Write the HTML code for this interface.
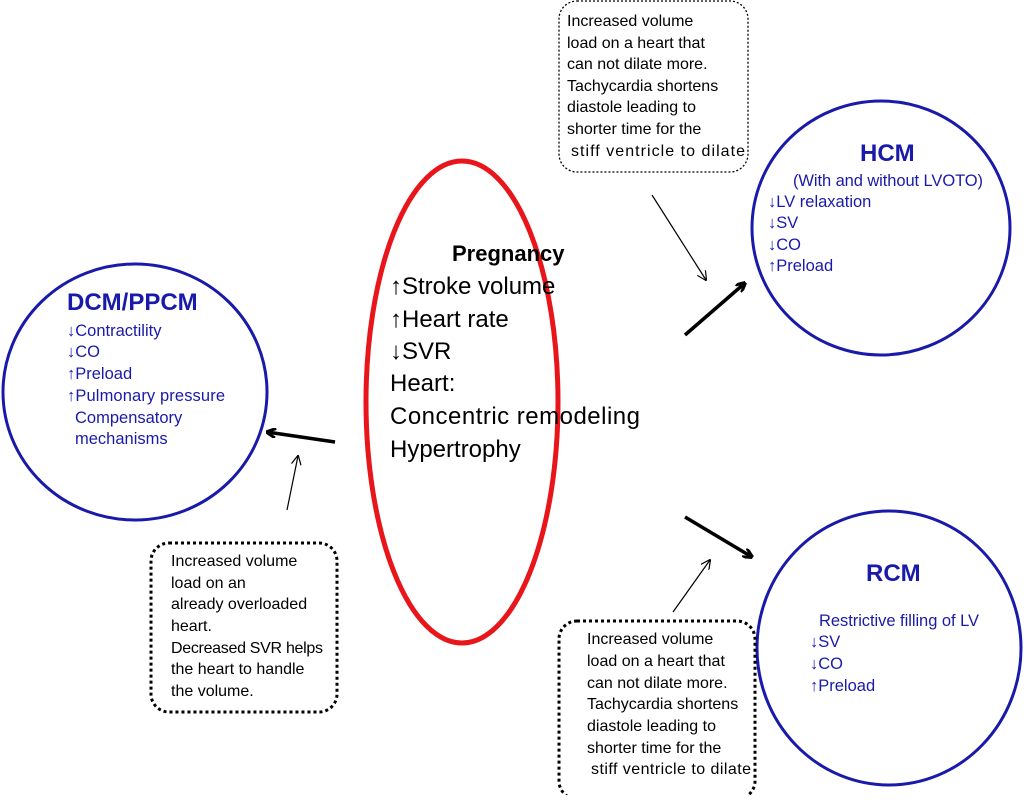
<!DOCTYPE html>
<html><head><meta charset="utf-8"><style>
body{margin:0;background:#fff;}
svg text{font-family:"Liberation Sans",sans-serif;}
</style></head><body>
<svg width="1024" height="795" viewBox="0 0 1024 795" xmlns="http://www.w3.org/2000/svg">
<defs>
<marker id="a" markerWidth="10" markerHeight="10" refX="9" refY="5" orient="auto" markerUnits="userSpaceOnUse"><path d="M0,0 L10,5 L0,10" fill="none" stroke="#000" stroke-width="3"/></marker>
<marker id="b" markerWidth="10" markerHeight="10" refX="9" refY="5" orient="auto" markerUnits="userSpaceOnUse"><path d="M0,0 L10,5 L0,10" fill="none" stroke="#000" stroke-width="1.2"/></marker>
</defs>
<ellipse cx="135" cy="392" rx="132" ry="128" fill="none" stroke="#1a1aaa" stroke-width="3"/>
<ellipse cx="881" cy="228" rx="129" ry="127" fill="none" stroke="#1a1aaa" stroke-width="3"/>
<ellipse cx="889" cy="648" rx="132" ry="137" fill="none" stroke="#1a1aaa" stroke-width="3"/>
<ellipse cx="462" cy="402" rx="96" ry="241" fill="none" stroke="#e8161b" stroke-width="5"/>
<rect x="559" y="1" width="189" height="171" rx="18" fill="none" stroke="#000" stroke-width="1.3" stroke-dasharray="2,2"/>
<rect x="151" y="543" width="186" height="169" rx="18" fill="none" stroke="#000" stroke-width="3" stroke-dasharray="3,3"/>
<rect x="559" y="621" width="196" height="178" rx="18" fill="none" stroke="#000" stroke-width="3" stroke-dasharray="3,3"/>
<line x1="335" y1="442" x2="267" y2="432" stroke="#000" stroke-width="3.5" marker-end="url(#a)"/>
<line x1="287" y1="510" x2="298" y2="456" stroke="#000" stroke-width="1.2" marker-end="url(#b)"/>
<line x1="685" y1="335" x2="745" y2="283" stroke="#000" stroke-width="3.5" marker-end="url(#a)"/>
<line x1="652" y1="195" x2="706" y2="280" stroke="#000" stroke-width="1.2" marker-end="url(#b)"/>
<line x1="685" y1="517" x2="752" y2="557" stroke="#000" stroke-width="3.5" marker-end="url(#a)"/>
<line x1="673" y1="612" x2="710" y2="560" stroke="#000" stroke-width="1.2" marker-end="url(#b)"/>
<g font-size="24" fill="#000">
<text x="452" y="261" font-size="22" font-weight="bold">Pregnancy</text>
<text x="390" y="294">↑Stroke volume</text>
<text x="390" y="327">↑Heart rate</text>
<text x="390" y="359">↓SVR</text>
<text x="390" y="391">Heart:</text>
<text x="390" y="424" textLength="250">Concentric remodeling</text>
<text x="390" y="457">Hypertrophy</text>
</g>
<g fill="#1a1aaa" font-size="16.5">
<text x="67" y="310" font-size="24" font-weight="bold">DCM/PPCM</text>
<text x="67" y="336">↓Contractility</text>
<text x="67" y="357">↓CO</text>
<text x="67" y="379">↑Preload</text>
<text x="67" y="401" textLength="158">↑Pulmonary pressure</text>
<text x="75" y="423">Compensatory</text>
<text x="75" y="444">mechanisms</text>
<text x="860" y="161" font-size="24" font-weight="bold">HCM</text>
<text x="793" y="186" textLength="190">(With and without LVOTO)</text>
<text x="768" y="207">↓LV relaxation</text>
<text x="768" y="228">↓SV</text>
<text x="768" y="250">↓CO</text>
<text x="768" y="271">↑Preload</text>
<text x="866" y="581" font-size="24" font-weight="bold">RCM</text>
<text x="819" y="626" textLength="160">Restrictive filling of LV</text>
<text x="810" y="647">↓SV</text>
<text x="810" y="669">↓CO</text>
<text x="810" y="691">↑Preload</text>
</g>
<g font-size="16" fill="#000">
<text x="567" y="26">Increased volume</text>
<text x="567" y="48">load on a heart that</text>
<text x="567" y="69">can not dilate more.</text>
<text x="567" y="91">Tachycardia shortens</text>
<text x="567" y="112">diastole leading to</text>
<text x="567" y="134">shorter time for the</text>
<text x="571" y="156" textLength="174">stiff ventricle to dilate</text>
<text x="171" y="566">Increased volume</text>
<text x="171" y="588">load on an</text>
<text x="171" y="609">already overloaded</text>
<text x="171" y="631">heart.</text>
<text x="171" y="653" textLength="152">Decreased SVR helps</text>
<text x="171" y="674">the heart to handle</text>
<text x="171" y="696">the volume.</text>
<text x="587" y="644">Increased volume</text>
<text x="587" y="666">load on a heart that</text>
<text x="587" y="688">can not dilate more.</text>
<text x="587" y="709">Tachycardia shortens</text>
<text x="587" y="731">diastole leading to</text>
<text x="587" y="753">shorter time for the</text>
<text x="591" y="774" textLength="160">stiff ventricle to dilate</text>
</g>
</svg>
</body></html>
